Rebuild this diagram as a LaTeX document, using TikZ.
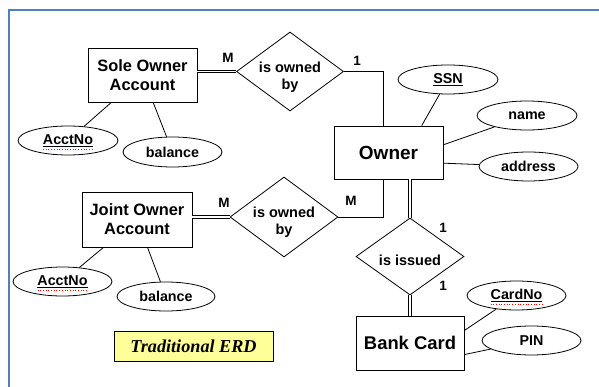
\documentclass[tikz,border=0pt]{standalone}
\usepackage{fontspec}
\setmainfont{Liberation Sans}
\newfontfamily\erdserif{Liberation Serif}
\usetikzlibrary{positioning,shapes.geometric,calc}
\definecolor{frameblue}{RGB}{79,129,189}
\definecolor{notefill}{RGB}{255,255,153}
\tikzset{
    erd/.style={
        x=1pt, y=-1pt,
        line width=0.8pt,
        % entity sets (rectangles)
        entity/.style={draw, rectangle, align=center, inner sep=0pt,
                       minimum width=109pt, minimum height=54pt,
                       font=\bfseries\fontsize{16.4}{19}\selectfont},
        % relationships (diamonds)
        relation/.style={draw, diamond, align=center, inner sep=-4pt,
                         aspect=1.35, minimum width=107pt, minimum height=79pt,
                         font=\bfseries\fontsize{14.5}{17}\selectfont},
        % attributes (ellipses)
        attribute/.style={draw, ellipse, align=center, inner sep=0pt,
                          minimum width=99pt, minimum height=29pt,
                          font=\bfseries\fontsize{14.3}{17}\selectfont},
        cardlabel/.style={font=\bfseries\fontsize{13.5}{15}\selectfont, inner sep=0pt},
        dblline/.style={double=white, double distance=1.3pt, line width=0.9pt},
        spell/.style={red, dotted, line width=0.7pt}
    }
}

\begin{document}
\begin{tikzpicture}[erd]
    \useasboundingbox (0,0) rectangle (599,387);
    \draw[frameblue, line width=2.5pt] (9,387) -- (9,10) -- (599,10);

    % entities
    \node[entity] (soa) at (142.5,75) {Sole Owner\\Account};
    \node[entity, minimum width=110pt, minimum height=55pt] (joa) at (137,219.5) {Joint Owner\\Account};
    \node[entity, minimum height=53pt, font=\bfseries\fontsize{19}{22}\selectfont] (owner) at (388.5,152.5) {Owner};
    \node[entity, minimum width=108pt, font=\bfseries\fontsize{18.4}{22}\selectfont] (bank) at (410,343) {Bank Card};

    % relationships (struts push the text a bit lower)
    \node[relation] (own1) at (290,71.5) {\rule{0pt}{22pt}is owned\\by};
    \node[relation, minimum width=108pt, minimum height=80pt] (own2) at (284,217) {\rule{0pt}{21pt}is owned\\by};
    \node[relation, minimum width=108pt, minimum height=77pt] (issued) at (410,256.5) {\rule{0pt}{18pt}is issued};

    % attributes
    \node[attribute, minimum width=100pt] (ssn) at (448,79.5) {\underline{SSN}};
    \node[attribute, minimum width=100pt] (name) at (527,115.5) {name};
    \node[attribute] (address) at (528.5,166.5) {address};
    \node[attribute, minimum width=100pt] (acct1) at (68,140.5) {\underline{AcctNo}};
    \node[attribute, minimum height=30pt] (bal1) at (172.5,152) {balance};
    \node[attribute] (acct2) at (62.5,281.5) {\underline{AcctNo}};
    \node[attribute, minimum width=98pt] (bal2) at (166,296.5) {balance};
    \node[attribute] (cardno) at (516.5,295.5) {\underline{CardNo}};
    \node[attribute] (pin) at (531.5,340.5) {PIN};

    \node[draw, fill=notefill, minimum width=159pt, minimum height=30pt, inner sep=0pt,
          font=\erdserif\bfseries\itshape\fontsize{18.2}{20}\selectfont] (note) at (193.5,346) {Traditional ERD};

    % attribute links
    \draw (soa) -- (acct1);
    \draw (soa) -- (bal1);
    \draw (joa) -- (acct2);
    \draw (joa) -- (bal2);
    \draw (owner.39) -- (ssn);
    \draw (owner.8) -- (name);
    \draw (owner.-11) -- (address);
    \draw (bank.13) -- (cardno);
    \draw (bank.-12) -- (pin);

    % relationship links
    \draw[dblline] (soa.east |- own1.west) -- (own1.west);
    \draw (own1.east) -| ([xshift=-5.5pt]owner.north);
    \draw[dblline] (joa.east |- own2.west) -- (own2.west);
    \draw (own2.east) -| ([xshift=-5.5pt]owner.south);
    \draw[dblline] (issued.north |- owner.south) -- (issued.north);
    \draw[dblline] (issued.south) -- (bank.north);

    % cardinalities
    \node[cardlabel] (c1) at (228,58) {M};
    \node[cardlabel] (c2) at (357,61) {1};
    \node[cardlabel] (c3) at (224,203) {M};
    \node[cardlabel] (c4) at (351,201) {M};
    \node[cardlabel] (c5) at (443,228) {1};
    \node[cardlabel] (c6) at (443,286) {1};

    % spell-check marks
    \draw[spell] ([xshift=-25pt,yshift=-9pt]acct1.center) -- ++(50,0);
    \draw[spell] ([xshift=-25pt,yshift=-9pt]acct2.center) -- ++(50,0);
    \draw[spell] ([xshift=-26pt,yshift=-9pt]cardno.center) -- ++(52,0);
\end{tikzpicture}
\end{document}
